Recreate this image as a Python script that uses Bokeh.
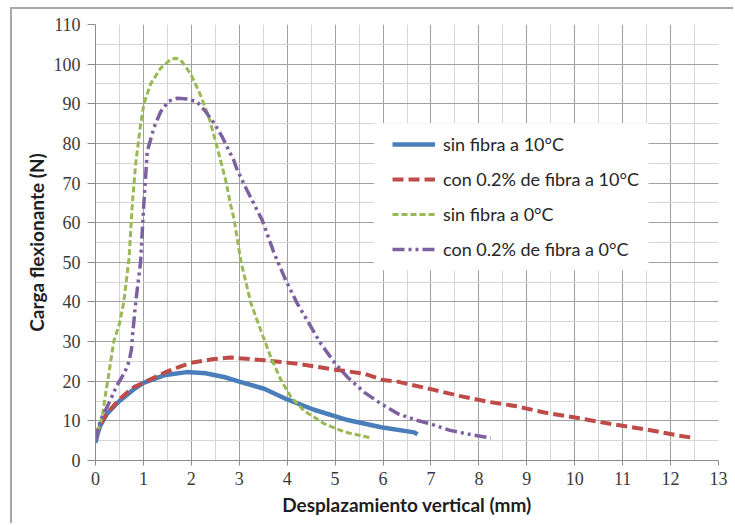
from bokeh.plotting import figure
from bokeh.models import SingleIntervalTicker, Legend, LegendItem, BoxAnnotation, Range1d
from bokeh.embed import file_html
from bokeh.resources import INLINE

# ---- data ----
x_sin10 = [0, 0.05, 0.1, 0.24, 0.5, 0.8, 1.0, 1.43, 1.9, 2.3, 2.7, 3.0, 3.52, 4.0, 4.56, 5.26, 5.96, 6.65, 6.72]
y_sin10 = [4.5, 7, 8.8, 11.8, 15, 18, 19.6, 21.5, 22.3, 22, 21, 19.9, 18.1, 15.4, 12.8, 10.2, 8.4, 7.1, 6.6]

x_con10 = [0, 0.05, 0.1, 0.25, 0.5, 0.8, 1.07, 1.5, 1.97, 2.47, 2.82, 3.0, 3.52, 4.21, 4.91, 5.61, 6.0, 6.3,
           7.0, 7.59, 8.15, 8.78, 9.37, 10.07, 10.76, 11.46, 12.16, 12.43]
y_con10 = [5.5, 7.5, 9.2, 12, 15.5, 18.5, 20, 22.5, 24.6, 25.6, 26, 25.8, 25.3, 24.4, 23.1, 21.9, 20.3, 19.9,
           18.0, 16.3, 14.9, 13.7, 12.1, 10.7, 9.2, 7.9, 6.3, 5.8]

x_sin0 = [0, 0.03, 0.14, 0.2, 0.28, 0.38, 0.5, 0.59, 0.7, 0.77, 0.84, 0.94, 1.01, 1.15, 1.36, 1.57, 1.67, 1.78,
          1.99, 2.19, 2.37, 2.54, 2.72, 2.82, 2.89, 3.03, 3.24, 3.45, 3.66, 3.87, 4.08, 4.35, 4.77, 5.19, 5.68, 5.72]
y_sin0 = [5, 6.5, 11, 16, 22, 30, 34.5, 40, 51, 65, 75, 84.7, 90, 95, 99, 101.2, 101.5, 101,
          97.5, 92.2, 86.5, 79, 70.5, 64.5, 61, 50.5, 39.8, 32.8, 26, 20.3, 16, 12.6, 9.3, 7.2, 5.9, 5.6]

x_con0 = [0, 0.05, 0.1, 0.2, 0.3, 0.45, 0.55, 0.65, 0.7, 0.75, 0.78, 0.84, 0.94, 1.01, 1.08, 1.22, 1.36, 1.53,
          1.71, 1.92, 2.12, 2.3, 2.47, 2.65, 2.89, 2.96, 3.17, 3.48, 3.73, 3.97, 4.21, 4.46, 4.7, 4.98, 5.26,
          5.61, 5.96, 6.31, 6.72, 7.0, 7.4, 7.8, 8.25]
y_con0 = [5, 7.5, 10, 12.5, 15, 19, 21, 23.3, 25, 28, 32.5, 40, 50, 65, 78, 84, 88, 90.7,
          91.4, 91.2, 90.5, 88, 85.2, 81.5, 75.6, 73.2, 68, 60.6, 52.2, 45.5, 39.6, 34.5, 29.5, 24.8, 21,
          17.2, 14.3, 11.8, 10.1, 9.2, 7.6, 6.6, 5.7]

labels = ["sin fibra a 10°C", "con 0.2% de fibra a 10°C", "sin fibra a 0°C", "con 0.2% de fibra a 0°C"]
x_label = "Desplazamiento vertical (mm)"
y_label = "Carga flexionante (N)"

# ---- figure ----
p = figure(width=723, height=516, output_backend="svg", toolbar_location=None,
           x_range=Range1d(0, 13), y_range=Range1d(0, 110),
           min_border_left=83, min_border_top=15, min_border_right=17, min_border_bottom=65)
p.styles = {"margin-left": "10px", "margin-top": "7px",
            "border-top": "2px solid #a8a8a8", "border-left": "2px solid #a8a8a8"}
p.outline_line_color = None
p.background_fill_color = "white"
p.border_fill_color = "white"

p.xaxis.ticker = SingleIntervalTicker(interval=1, num_minor_ticks=2)
p.yaxis.ticker = SingleIntervalTicker(interval=10, num_minor_ticks=2)

for g in (p.xgrid, p.ygrid):
    g.grid_line_color = "#a0a0a0"
    g.grid_line_width = 1
    g.minor_grid_line_color = "#d6d6d6"
    g.minor_grid_line_width = 1

for ax in (p.xaxis, p.yaxis):
    ax.axis_line_color = "#8c8c8c"
    ax.major_tick_line_color = "#8c8c8c"
    ax.major_tick_in = 0
    ax.minor_tick_line_color = None
    ax.major_label_text_font = "Liberation Serif"
    ax.major_label_text_font_size = "18px"
    ax.major_label_text_color = "#3a3a3a"
    ax.axis_label_text_font = "Lato"
    ax.axis_label_text_font_style = "bold"
    ax.axis_label_text_font_size = "19px"
    ax.axis_label_text_color = "#1e1e1e"

p.xaxis.major_tick_out = 5
p.yaxis.major_tick_out = 8
p.xaxis.major_label_standoff = 6
p.yaxis.major_label_standoff = 7
p.xaxis.axis_label = x_label
p.yaxis.axis_label = y_label
p.xaxis.axis_label_standoff = 5
p.yaxis.axis_label_standoff = 3

r1 = p.line(x_sin10, y_sin10, line_color="#4A7EBB", line_width=4.5)
r2 = p.line(x_con10, y_con10, line_color="#BE4B48", line_width=4, line_dash="11 5")
r3 = p.line(x_sin0, y_sin0, line_color="#98B954", line_width=3, line_dash="6 3")
r4 = p.line(x_con0, y_con0, line_color="#7D60A0", line_width=3.5, line_dash="12 4 3 4 3 4")

box = BoxAnnotation(left=5.81, right=11.54, bottom=48, top=85.1,
                    fill_color="white", fill_alpha=1, line_color=None)
p.add_layout(box)

legend = Legend(items=[LegendItem(label=labels[0], renderers=[r1]),
                       LegendItem(label=labels[1], renderers=[r2]),
                       LegendItem(label=labels[2], renderers=[r3]),
                       LegendItem(label=labels[3], renderers=[r4])],
                location=(297, 200), background_fill_alpha=0, border_line_color=None,
                padding=0, margin=0, spacing=13, glyph_width=43, glyph_height=22,
                label_height=22, label_standoff=8, label_text_font="Lato",
                label_text_font_size="18px", label_text_color="#262626")
p.add_layout(legend)

open("out.html", "w").write(file_html(p, INLINE))
